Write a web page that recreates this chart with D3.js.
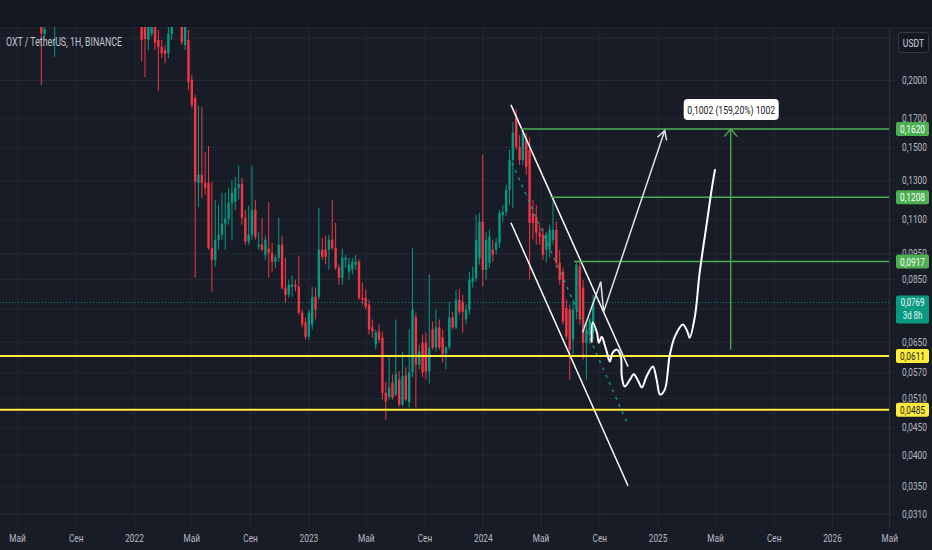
<!DOCTYPE html>
<html>
<head>
<meta charset="utf-8">
<script src="https://cdn.jsdelivr.net/npm/d3@7"></script>
<style>
html,body{margin:0;padding:0;background:#181c27;overflow:hidden}
svg{display:block}
text{font-family:Roboto,"Noto Sans",sans-serif}
</style>
</head>
<body>
<svg id="chart" width="932" height="550"></svg>
<script>
// weekly candles, first one opens on this monday
var firstWeek = "2021-06-21"
var opens = [
0.262,0.2437,0.255,0.280,0.270,0.285,0.320,0.350,0.340,0.360,
0.410,0.450,0.430,0.390,0.400,0.420,0.410,0.450,0.440,0.460,
0.470,0.430,0.440,0.400,0.350,0.340,0.320,0.300,0.310,0.280,
0.265,0.258,0.2375,0.2440,0.256,0.2375,0.2304,0.2275,0.2245,0.2440,
0.256,0.275,0.262,0.2324,0.2375,0.2000,0.1852,0.1286,0.1331,0.1286,
0.1286,0.0973,0.0924,0.1007,0.1029,0.1079,0.1102,0.1180,0.1185,0.1259,
0.1280,0.1106,0.0999,0.1029,0.1145,0.0978,0.0986,0.0944,0.0969,0.0952,
0.0916,0.0932,0.0986,0.0820,0.0795,0.0823,0.0830,0.0823,0.0736,0.0706,
0.0664,0.0700,0.0788,0.0788,0.0965,0.0965,0.0965,0.1007,0.0973,0.0893,
0.0855,0.0924,0.0878,0.0885,0.0905,0.0916,0.0785,0.0785,0.0762,0.0691,
0.0642,0.0679,0.0661,0.0522,0.0512,0.0545,0.0518,0.0552,0.0496,0.0562,
0.0501,0.0570,0.0721,0.0589,0.0647,0.0647,0.0572,0.0685,0.0634,0.0691,
0.0661,0.0618,0.0634,0.0721,0.0691,0.0778,0.0771,0.0715,0.0746,0.0841,
0.0855,0.0932,0.1088,0.0885,0.0912,0.0965,0.0965,0.0994,0.1121,0.1135,
0.1248,0.1419,0.1699,0.1500,0.1419,0.1546,0.1481,0.1126,0.1111,0.1038,
0.1029,0.0965,0.0965,0.1007,0.1051,0.0912,0.0878,0.0751,0.0746,0.0656,
0.0746,0.0897,0.0820,0.0647,0.0670,0.0676]
var highs = [
0.275,0.262,0.285,0.300,0.290,0.330,0.360,0.380,0.370,0.420,
0.470,0.500,0.460,0.420,0.440,0.450,0.460,0.490,0.470,0.520,
0.500,0.460,0.470,0.420,0.380,0.370,0.350,0.330,0.330,0.300,
0.280,0.270,0.270,0.265,0.268,0.248,0.2375,0.2324,0.253,0.262,
0.285,0.290,0.275,0.265,0.248,0.2043,0.1876,0.1789,0.1782,0.1469,
0.1506,0.1291,0.1195,0.1170,0.1232,0.1232,0.1259,0.1302,0.1319,0.1383,
0.1313,0.1145,0.1165,0.1383,0.1195,0.1042,0.1106,0.1025,0.1185,0.0994,
0.0944,0.1106,0.1025,0.0932,0.0848,0.0863,0.0848,0.0940,0.0746,0.0721,
0.0746,0.0823,0.0820,0.1155,0.1016,0.1025,0.1029,0.1195,0.1083,0.0905,
0.0969,0.0944,0.0932,0.0932,0.0944,0.0924,0.0837,0.0813,0.0778,0.0715,
0.0685,0.0700,0.0679,0.0546,0.0609,0.0565,0.0715,0.0572,0.0623,0.0582,
0.0685,0.0973,0.0736,0.0642,0.0670,0.0676,0.0867,0.0709,0.0746,0.0715,
0.0685,0.0637,0.0771,0.0739,0.0813,0.0816,0.0795,0.0762,0.0878,0.0897,
0.1121,0.1130,0.1450,0.1042,0.1051,0.1007,0.1016,0.1145,0.1170,0.1275,
0.1481,0.1669,0.1763,0.1580,0.1621,0.1594,0.1565,0.1195,0.1170,0.1074,
0.1060,0.1042,0.1074,0.1205,0.1088,0.0965,0.0893,0.0778,0.0762,0.0778,
0.0916,0.0916,0.0848,0.0706,0.0721,0.0795]
var lows = [
0.1958,0.2412,0.253,0.262,0.2209,0.280,0.310,0.330,0.320,0.350,
0.390,0.420,0.360,0.350,0.380,0.390,0.400,0.430,0.410,0.440,
0.420,0.400,0.390,0.330,0.310,0.300,0.280,0.280,0.270,0.262,
0.2170,0.2026,0.2275,0.2412,0.2275,0.1908,0.2198,0.2150,0.2198,0.2375,
0.254,0.256,0.2324,0.2275,0.1916,0.1774,0.0855,0.1159,0.1205,0.1221,
0.0965,0.0806,0.0897,0.0965,0.1007,0.0965,0.1074,0.1007,0.1145,0.1195,
0.1074,0.0986,0.0986,0.1007,0.1007,0.0965,0.0957,0.0924,0.0855,0.0878,
0.0893,0.0916,0.0813,0.0768,0.0785,0.0788,0.0806,0.0730,0.0691,0.0656,
0.0656,0.0685,0.0715,0.0778,0.0924,0.0905,0.0885,0.0965,0.0885,0.0830,
0.0830,0.0893,0.0848,0.0867,0.0885,0.0778,0.0762,0.0746,0.0670,0.0661,
0.0628,0.0647,0.0507,0.0465,0.0507,0.0507,0.0514,0.0492,0.0492,0.0503,
0.0490,0.0558,0.0490,0.0577,0.0558,0.0552,0.0543,0.0628,0.0623,0.0628,
0.0594,0.0577,0.0628,0.0685,0.0685,0.0730,0.0676,0.0700,0.0730,0.0820,
0.0841,0.0905,0.0823,0.0848,0.0893,0.0916,0.0944,0.0973,0.1088,0.1116,
0.1170,0.1155,0.1481,0.1389,0.1389,0.1331,0.0848,0.1007,0.0986,0.0986,
0.0924,0.0912,0.0932,0.0986,0.0893,0.0830,0.0700,0.0656,0.0552,0.0615,
0.0715,0.0700,0.0602,0.0552,0.0642,0.0656]
var closes = [
0.2443,0.2489,0.280,0.270,0.285,0.320,0.350,0.340,0.360,0.410,
0.450,0.430,0.390,0.400,0.420,0.410,0.450,0.440,0.460,0.470,
0.430,0.440,0.400,0.350,0.340,0.320,0.300,0.310,0.280,0.270,
0.2375,0.2385,0.258,0.255,0.2345,0.2304,0.2245,0.2236,0.2440,0.256,
0.275,0.262,0.2355,0.255,0.1983,0.1797,0.1291,0.1331,0.1286,0.1259,
0.0973,0.0924,0.1007,0.1029,0.1079,0.1102,0.1180,0.1232,0.1259,0.1280,
0.1106,0.0999,0.1029,0.1145,0.1020,0.0986,0.0965,0.1007,0.0952,0.0916,
0.0932,0.0986,0.0820,0.0795,0.0830,0.0830,0.0823,0.0736,0.0700,0.0664,
0.0736,0.0788,0.0746,0.0965,0.0936,0.0936,0.1007,0.0973,0.0893,0.0855,
0.0932,0.0932,0.0905,0.0916,0.0916,0.0785,0.0778,0.0755,0.0685,0.0679,
0.0676,0.0656,0.0522,0.0503,0.0534,0.0512,0.0565,0.0496,0.0560,0.0507,
0.0570,0.0746,0.0589,0.0623,0.0570,0.0572,0.0634,0.0634,0.0691,0.0634,
0.0615,0.0634,0.0721,0.0691,0.0778,0.0739,0.0739,0.0746,0.0848,0.0855,
0.1007,0.1088,0.0885,0.1007,0.1020,0.0944,0.0994,0.1130,0.1135,0.1248,
0.1419,0.1594,0.1500,0.1419,0.1594,0.1377,0.1083,0.1083,0.1038,0.1020,
0.0944,0.1029,0.1051,0.1051,0.0912,0.0848,0.0709,0.0664,0.0628,0.0746,
0.0905,0.0715,0.0647,0.0685,0.0715,0.0769]

// grid lines at every tick, labels only where the picture shows them
var yTicks = [0.24,0.2,0.17,0.15,0.13,0.11,0.095,0.085,0.075,0.065,0.057,0.051,0.045,0.04,0.035,0.031]
var yLabels = [0.2,0.17,0.15,0.13,0.11,0.095,0.085,0.065,0.057,0.051,0.045,0.04,0.035,0.031]
var xTicks = ["2021-05-01","2021-09-01","2022-01-01","2022-05-01","2022-09-01","2023-01-01","2023-05-01",
              "2023-09-01","2024-01-01","2024-05-01","2024-09-01","2025-01-01","2025-05-01","2025-09-01",
              "2026-01-01","2026-05-01"]
var monthNames = {4:"Май",8:"Сен"}

var lastPrice = 0.0769
var countdown = "3d 8h"
var supportLevels = [0.0611,0.0485]
var targetLevels = [[0.1620,"2024-03-21"],[0.1208,"2024-05-22"],[0.0917,"2024-07-10"]]

// drawings (date, price)
var channelUpper = [["2024-02-29",0.1797],["2024-10-31",0.0584]]
var channelLower = [["2024-02-29",0.1083],["2024-10-31",0.0350]]
var channelMid = [["2024-03-02",0.1402],["2024-10-29",0.0459]]
var breakoutArrow = [["2024-07-28",0.0676],["2024-09-04",0.0841],["2024-09-10",0.0739],["2025-01-16",0.1610]]
var wavePath = [
["2024-08-16",0.0650],["2024-08-18",0.0706],["2024-08-27",0.0676],["2024-08-31",0.0647],
["2024-09-06",0.0664],["2024-09-12",0.0642],["2024-09-17",0.0620],["2024-09-23",0.0597],
["2024-09-29",0.0620],["2024-10-08",0.0628],["2024-10-16",0.0610],["2024-10-18",0.0560],
["2024-10-24",0.0536],["2024-11-04",0.0552],["2024-11-12",0.0565],["2024-11-20",0.0552],
["2024-11-29",0.0534],["2024-12-09",0.0560],["2024-12-22",0.0584],["2024-12-30",0.0552],
["2025-01-06",0.0518],["2025-01-16",0.0529],["2025-01-26",0.0610],["2025-02-06",0.0664],
["2025-02-23",0.0700],["2025-03-05",0.0676],["2025-03-09",0.0661],["2025-03-20",0.0724],
["2025-03-30",0.0874],["2025-04-14",0.1083],["2025-04-24",0.1248],["2025-05-01",0.1359]]
var rangeArrow = [["2025-06-03",0.0628],["2025-06-03",0.1620]]
var rangeLabel = "0,1002 (159,20%) 1002"

var W = 932, H = 550
var plotRight = 889, plotTop = 27, plotBottom = 528
var sx = 0.75   // labels in the picture are narrow
var up = "#089981", down = "#f23645"

var parse = d3.utcParse("%Y-%m-%d")
var x = d3.scaleUtc().domain([parse("2022-01-01"), parse("2026-01-01")]).range([134, 832])
var y = d3.scaleLog().domain([0.2, 0.031]).range([80, 514])
var fmtPrice = function(d){ return d.toFixed(4).replace(".", ",") }

var candles = opens.map(function(o,i){
	return {date: d3.utcDay.offset(parse(firstWeek), i*7), o:o, h:highs[i], l:lows[i], c:closes[i]}
})

var svg = d3.select("#chart")

svg.append("rect").attr("width",W).attr("height",H).attr("fill","#181c27")
svg.append("rect").attr("width",W).attr("height",plotTop).attr("fill","#131722")
svg.append("line").attr("x1",0).attr("x2",W).attr("y1",plotTop+0.5).attr("y2",plotTop+0.5).attr("stroke","#1e222d")

svg.append("clipPath").attr("id","plot")
	.append("rect").attr("x",0).attr("y",plotTop).attr("width",plotRight).attr("height",plotBottom-plotTop)

// grid
var gridY = svg.append("g")
	.call(d3.axisRight(y).tickValues(yTicks).tickSize(897).tickFormat(""))
gridY.select(".domain").remove()
gridY.selectAll("line").attr("stroke","#242833")

var gridX = svg.append("g").attr("transform","translate(0,"+plotBottom+")")
	.call(d3.axisBottom(x).tickValues(xTicks.map(parse)).tickSize(-(plotBottom-plotTop)).tickFormat(""))
gridX.select(".domain").remove()
gridX.selectAll("line").attr("stroke","#242833")

svg.append("line").attr("x1",plotRight+0.5).attr("x2",plotRight+0.5).attr("y1",plotTop).attr("y2",plotBottom)
	.attr("stroke","#2a2e39")

var plot = svg.append("g").attr("clip-path","url(#plot)")

// candles
var cg = plot.selectAll(".candle").data(candles).enter().append("g").attr("class","candle")
cg.append("line")
	.attr("x1",function(d){return x(d.date)}).attr("x2",function(d){return x(d.date)})
	.attr("y1",function(d){return y(d.h)}).attr("y2",function(d){return y(d.l)})
	.attr("stroke",function(d){return d.c>=d.o?up:down}).attr("stroke-width",1)
cg.append("rect")
	.attr("x",function(d){return x(d.date)-1.2})
	.attr("y",function(d){return y(Math.max(d.o,d.c))})
	.attr("width",2.4)
	.attr("height",function(d){return Math.max(1,Math.abs(y(d.o)-y(d.c)))})
	.attr("fill",function(d){return d.c>=d.o?up:down})

// last price dotted line
plot.append("line").attr("x1",0).attr("x2",plotRight).attr("y1",y(lastPrice)).attr("y2",y(lastPrice))
	.attr("stroke",up).attr("stroke-opacity",0.75).attr("stroke-dasharray","1,2")

var line = d3.line().x(function(d){return x(parse(d[0]))}).y(function(d){return y(d[1])})

plot.append("path").attr("d",line(channelMid)).attr("fill","none")
	.attr("stroke","#1f9e8c").attr("stroke-opacity",0.85).attr("stroke-width",1.5).attr("stroke-dasharray","3,5")
plot.selectAll(".channel").data([channelUpper,channelLower]).enter().append("path")
	.attr("d",line).attr("fill","none").attr("stroke","#ffffff").attr("stroke-width",1.5)

// support (yellow) and targets (green)
plot.selectAll(".support").data(supportLevels).enter().append("line")
	.attr("x1",0).attr("x2",plotRight).attr("y1",function(d){return y(d)}).attr("y2",function(d){return y(d)})
	.attr("stroke","#ffeb3b").attr("stroke-width",2)
plot.selectAll(".target").data(targetLevels).enter().append("line")
	.attr("x1",function(d){return x(parse(d[1]))}).attr("x2",plotRight)
	.attr("y1",function(d){return y(d[0])}).attr("y2",function(d){return y(d[0])})
	.attr("stroke","#4caf50").attr("stroke-width",1.5)

// breakout arrow
plot.append("path").attr("d",line(breakoutArrow)).attr("fill","none")
	.attr("stroke","#e0e3eb").attr("stroke-width",1.5)
function arrowHead(tip, from, len, ang, color, width){
	var a = Math.atan2(from[1]-tip[1], from[0]-tip[0])
	var pts = [[tip[0]+len*Math.cos(a+ang), tip[1]+len*Math.sin(a+ang)], tip, [tip[0]+len*Math.cos(a-ang), tip[1]+len*Math.sin(a-ang)]]
	plot.append("path").attr("d",d3.line()(pts)).attr("fill","none").attr("stroke",color).attr("stroke-width",width)
}
var bn = breakoutArrow.length
arrowHead([x(parse(breakoutArrow[bn-1][0])), y(breakoutArrow[bn-1][1])],
          [x(parse(breakoutArrow[bn-2][0])), y(breakoutArrow[bn-2][1])], 10, 0.5, "#e0e3eb", 1.5)

// expected path
plot.append("path").attr("d",line.curve(d3.curveCatmullRom.alpha(0.5))(wavePath)).attr("fill","none")
	.attr("stroke","#ffffff").attr("stroke-width",2).attr("stroke-linecap","round")
line.curve(d3.curveLinear)

// range measure
plot.append("path").attr("d",line(rangeArrow)).attr("fill","none").attr("stroke","#4caf50").attr("stroke-width",1.3)
arrowHead([x(parse(rangeArrow[1][0])), y(rangeArrow[1][1])],
          [x(parse(rangeArrow[0][0])), y(rangeArrow[0][1])], 10, 0.72, "#4caf50", 1.3)
var rx = x(parse(rangeArrow[1][0])), ry = y(rangeArrow[1][1])
svg.append("rect").attr("x",rx-47).attr("y",ry-30).attr("width",95).attr("height",21).attr("rx",4).attr("fill","#ffffff")
svg.append("text").attr("transform","translate("+(rx+0.5)+","+(ry-15.5)+") scale("+sx+",1)")
	.attr("text-anchor","middle").attr("font-size",11.5).attr("fill","#131722").text(rangeLabel)

// axes
var yAxis = svg.append("g").attr("transform","translate("+plotRight+",0)")
	.call(d3.axisRight(y).tickValues(yLabels).tickSize(0).tickPadding(13).tickFormat(fmtPrice))
yAxis.select(".domain").remove()
yAxis.attr("font-family",null).attr("font-size",null)
yAxis.selectAll("text").attr("fill","#b8bbc3").attr("font-size",11)
	.attr("x",13/sx).attr("transform","scale("+sx+",1)")

var xAxis = svg.append("g").attr("transform","translate(0,"+plotBottom+")")
	.call(d3.axisBottom(x).tickValues(xTicks.map(parse)).tickSize(0).tickPadding(6)
		.tickFormat(function(d){ var m = d.getUTCMonth(); return m==0 ? d.getUTCFullYear() : monthNames[m] }))
xAxis.select(".domain").remove()
xAxis.attr("font-family",null).attr("font-size",null)
xAxis.selectAll("text").attr("fill","#b8bbc3").attr("font-size",11).attr("transform","scale("+sx+",1)")

// price tags on the axis
function tag(price, fill, color){
	var yy = y(price)
	svg.append("rect").attr("x",896).attr("y",yy-7).attr("width",33).attr("height",14).attr("rx",2).attr("fill",fill)
	svg.append("text").attr("transform","translate(912.5,"+(yy+4)+") scale("+sx+",1)")
		.attr("text-anchor","middle").attr("font-size",11).attr("fill",color).text(fmtPrice(price))
}
targetLevels.forEach(function(d){ tag(d[0], "#4caf50", "#ffffff") })
supportLevels.forEach(function(d){ tag(d, "#ffeb3b", "#131722") })

var ly = y(lastPrice)
svg.append("rect").attr("x",896).attr("y",ly-7).attr("width",33).attr("height",28).attr("rx",2).attr("fill",up)
svg.append("text").attr("transform","translate(912.5,"+(ly+3.5)+") scale("+sx+",1)")
	.attr("text-anchor","middle").attr("font-size",10.5).attr("fill","#ffffff").text(fmtPrice(lastPrice))
svg.append("text").attr("transform","translate(912.5,"+(ly+16.5)+") scale("+sx+",1)")
	.attr("text-anchor","middle").attr("font-size",10.5).attr("fill","#e6f5f2").text(countdown)

// currency button
svg.append("rect").attr("x",898.5).attr("y",32.5).attr("width",30).attr("height",20).attr("rx",3)
	.attr("fill","#131722").attr("stroke","#363a45")
svg.append("text").attr("transform","translate(913.5,46.5) scale("+sx+",1)")
	.attr("text-anchor","middle").attr("font-size",11.5).attr("fill","#d1d4dc").text("USDT")

// title
svg.append("text").attr("x",6).attr("y",46).attr("font-size",12).attr("fill","#c3c6ce")
	.attr("textLength",116).attr("lengthAdjust","spacingAndGlyphs").text("OXT / TetherUS, 1H, BINANCE")
</script>
</body>
</html>
